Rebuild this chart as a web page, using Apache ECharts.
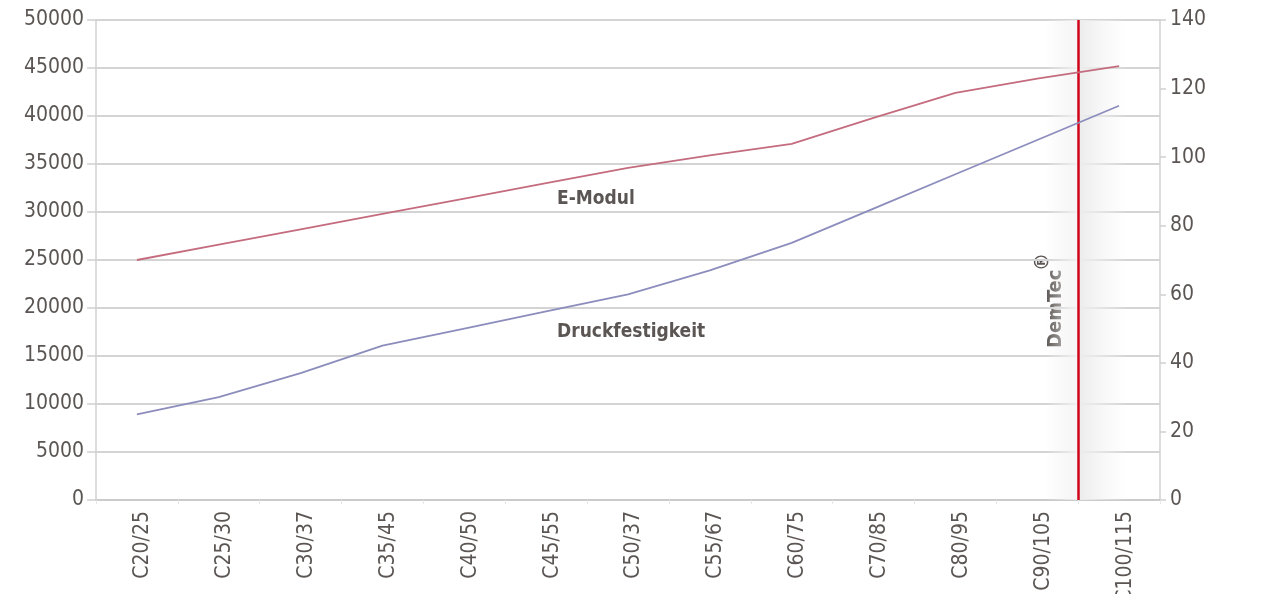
<!DOCTYPE html>
<html><head><meta charset="utf-8">
<script src="https://cdn.jsdelivr.net/npm/echarts@6/dist/echarts.min.js"></script>
<style>html,body{margin:0;padding:0;background:#fff}#c{width:1274px;height:594px}</style>
</head><body><div id="c"></div>
<script>
const categories = ['C20/25','C25/30','C30/37','C35/45','C40/50','C45/55','C50/37','C55/67','C60/75','C70/85','C80/95','C90/105','C100/115'];
const eModul = [25000,26600,28200,29800,31400,33000,34600,35900,37100,39800,42400,43900,45200];
const druckfestigkeit = [25,30,37,45,50,55,60,67,75,85,95,105,115];
const demtecPosition = [12];
const seriesNames = ['E-Modul','Druckfestigkeit'];

const FONT = "'DejaVu Sans Condensed','Liberation Sans Narrow',sans-serif";
const TXT = '#5b5653';
const chart = echarts.init(document.getElementById('c'), null, {renderer:'canvas'});
chart.setOption({
  animation:false,
  backgroundColor:'#ffffff',
  grid:{left:96,right:114,top:20,bottom:94,outerBoundsMode:'none',containLabel:false},
  xAxis:[{
    type:'category', data:categories, boundaryGap:true,
    axisLine:{lineStyle:{color:'#c8c8c8',width:1.5}},
    axisTick:{show:true,length:4,lineStyle:{color:'#e6e6e6'}},
    axisLabel:{rotate:90,margin:11,color:TXT,fontFamily:FONT,fontSize:21,verticalAlign:'top',lineHeight:12}
  },{
    type:'value', min:0, max:13, show:false
  }],
  yAxis:[{
    type:'value', min:0, max:50000, interval:5000, position:'left',
    axisLine:{show:true,lineStyle:{color:'#d0d0d0',width:1.5}},
    axisTick:{show:true,length:9,lineStyle:{color:'#d0d0d0',width:1.5}},
    axisLabel:{margin:12,color:TXT,fontFamily:FONT,fontSize:21,formatter:v=>String(v)},
    splitLine:{show:true,lineStyle:{color:'#d4d4d4',width:2}}
  },{
    type:'value', min:0, max:140, interval:20, position:'right',
    axisLine:{show:true,lineStyle:{color:'#d0d0d0',width:1.5}},
    axisTick:{show:true,length:6,lineStyle:{color:'#d0d0d0',width:1.5}},
    axisLabel:{margin:10,color:TXT,fontFamily:FONT,fontSize:21,formatter:v=>String(v)},
    splitLine:{show:false}
  }],
  series:[{
    name:'demtec', type:'line', xAxisIndex:1, yAxisIndex:0, data:[], silent:true,
    markArea:{silent:true, itemStyle:{color:{type:'linear',x:0,y:0,x2:1,y2:0,colorStops:[
      {offset:0,color:'rgba(240,240,240,0)'},
      {offset:0.4,color:'rgba(244,244,244,0.9)'},
      {offset:0.42,color:'rgba(236,236,236,1)'},
      {offset:1,color:'rgba(245,245,245,0)'}]}},
      data:[[{xAxis:demtecPosition[0]-0.4},{xAxis:demtecPosition[0]+0.6}]]},
    markLine:{silent:true, symbol:['none','none'], label:{show:false},
      lineStyle:{color:'#d0021b',width:2.5,type:'solid'},
      data:[{xAxis:demtecPosition[0]}]}
  },{
    name:seriesNames[0], type:'line', xAxisIndex:0, yAxisIndex:0, data:eModul,
    symbol:'none', lineStyle:{color:'#c46c7e',width:1.8}, z:5
  },{
    name:seriesNames[1], type:'line', xAxisIndex:0, yAxisIndex:1, data:druckfestigkeit,
    symbol:'none', lineStyle:{color:'#8c8dbd',width:1.8}, z:5
  }],
  graphic:[
    {type:'text', left:557, top:190, style:{text:'E-Modul', fill:TXT, font:"bold 19px "+FONT}},
    {type:'text', left:557, top:323, style:{text:'Druckfestigkeit', fill:TXT, font:"bold 19px "+FONT}},
    {type:'text', x:1046, y:348, rotation:Math.PI/2, style:{text:'DemTec', fill:TXT, font:"bold 20px "+FONT, textVerticalAlign:'top'}},
    {type:'text', x:1033, y:271, rotation:Math.PI/2, style:{text:'®', fill:TXT, font:"bold 20px "+FONT, textVerticalAlign:'top'}}
  ]
});
</script></body></html>
